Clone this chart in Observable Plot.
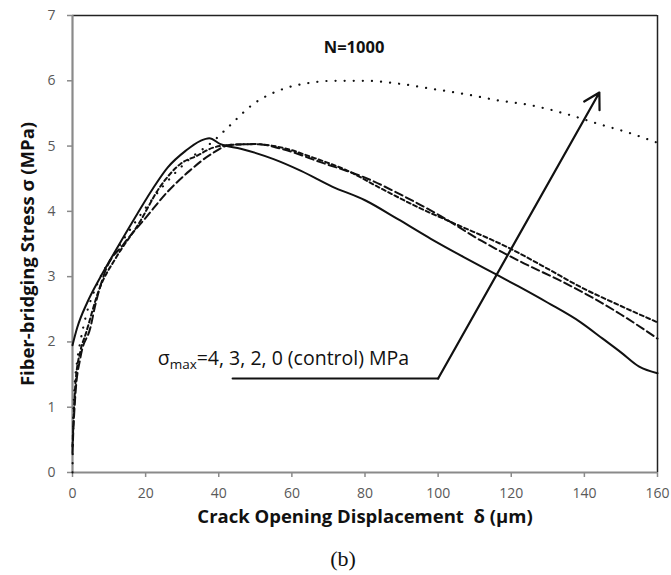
<!DOCTYPE html>
<html>
<head>
<meta charset="utf-8">
<script src="https://cdn.jsdelivr.net/npm/d3@7"></script>
<script src="https://cdn.jsdelivr.net/npm/@observablehq/plot@0.6"></script>
<style>
  body { margin: 0; background: #fff; }
  #chart { width: 671px; }
  #caption { position: absolute; left: 0; top: 548px; width: 686px; text-align: center; line-height: 22px;
    font-family: "Liberation Serif", "DejaVu Serif", serif; font-size: 22px; color: #111; }
</style>
</head>
<body>
<div id="chart"></div>
<div id="caption">(b)</div>
<script>
// Tick values
const xTicks = [0, 20, 40, 60, 80, 100, 120, 140, 160];
const yTicks = [0, 1, 2, 3, 4, 5, 6, 7];

// Texts
const xLabel = "Crack Opening Displacement  δ (µm)";
const yLabel = "Fiber-bridging Stress σ (MPa)";
const titleText = ["N=1000"];
const noteText = ["σmax=4, 3, 2, 0 (control) MPa"];
const titleX = [77], titleY = [6.5];
const noteX = [23.3], noteY = [1.75];

// σmax = 4 MPa (solid)
const s4X = [0, 1.3, 4, 7.5, 12, 17.7, 22, 26, 31, 35, 37.4, 40.5, 46, 55, 62.5, 71, 80, 89, 98, 107, 116, 122, 130, 139, 145, 150, 155, 160];
const s4Y = [1.95, 2.22, 2.6, 2.98, 3.42, 3.96, 4.35, 4.67, 4.93, 5.08, 5.12, 5.03, 4.96, 4.8, 4.62, 4.38, 4.17, 3.88, 3.58, 3.3, 3.03, 2.85, 2.6, 2.3, 2.05, 1.84, 1.62, 1.52];

// σmax = 3 MPa (long dash)
const s3X = [0, 0.2, 0.8, 2.2, 4.9, 6.3, 9, 14, 20, 26, 32, 38, 43.3, 50.6, 57, 68, 80.7, 90, 100, 111.8, 123.6, 133, 142.8, 150, 157.4, 160];
const s3Y = [0.3, 0.6, 1.2, 1.77, 2.22, 2.58, 3.09, 3.5, 3.9, 4.3, 4.62, 4.88, 5.02, 5.03, 4.96, 4.75, 4.5, 4.25, 3.95, 3.55, 3.2, 2.95, 2.66, 2.42, 2.15, 2.05];

// σmax = 2 MPa (short dash)
const s2X = [0, 0.8, 2.2, 3.6, 7.2, 12, 18, 24, 29.6, 34, 38.7, 44, 50, 57, 66, 75.3, 84.4, 95, 105, 119, 130, 139, 150, 160];
const s2Y = [0.4, 1.36, 1.87, 2.12, 2.79, 3.3, 3.8, 4.38, 4.73, 4.85, 4.98, 5.02, 5.03, 4.98, 4.82, 4.62, 4.35, 4.05, 3.8, 3.45, 3.12, 2.84, 2.55, 2.3];

// control (dotted)
const s0X = [0, 0.1, 0.4, 1.3, 2.2, 3.6, 6.8, 12, 18, 25, 32, 38.6, 42.4, 49.6, 57.9, 65, 71.6, 80, 90, 98, 107, 116.4, 125, 134.5, 143.8, 152.9, 160];
const s0Y = [0, 0.5, 1.15, 1.72, 2.02, 2.38, 2.89, 3.4, 3.9, 4.4, 4.8, 5.08, 5.28, 5.65, 5.88, 5.97, 6.0, 6.0, 5.95, 5.88, 5.8, 5.7, 5.63, 5.5, 5.34, 5.19, 5.05];

// Annotation leader
const leaderX = [43.8, 100];
const leaderY = [1.44, 1.44];
const arrowX1 = [100], arrowY1 = [1.44], arrowX2 = [144.1], arrowY2 = [5.82];

const toRows = (xs, ys) => xs.map((x, i) => ({x, y: ys[i]}));

const axisGray = "#8a8a8a";
const labelGray = "#595959";
const font = "'Open Sans', Lato, sans-serif";

const plot = Plot.plot({
  width: 671,
  height: 535,
  marginLeft: 72,
  marginRight: 14,
  marginTop: 15,
  marginBottom: 63,
  style: { fontFamily: font, background: "#fff" },
  x: { domain: [xTicks[0], xTicks[xTicks.length - 1]] },
  y: { domain: [yTicks[0], yTicks[yTicks.length - 1]] },
  marks: [
    Plot.axisX({ ticks: xTicks, tickFormat: d => String(d), tickSize: 5, tickPadding: 11, fontSize: 14, color: labelGray, stroke: axisGray, strokeWidth: 1.5, label: null }),
    Plot.axisY({ ticks: yTicks, tickFormat: d => String(d), tickSize: 5, tickPadding: 12, fontSize: 14, color: labelGray, stroke: axisGray, strokeWidth: 1.5, label: null }),
    Plot.ruleY([yTicks[yTicks.length - 1]], { stroke: "#222", strokeWidth: 1.5 }),
    Plot.ruleX([xTicks[xTicks.length - 1]], { stroke: "#222", strokeWidth: 1.5 }),
    Plot.ruleY([yTicks[0]], { stroke: axisGray, strokeWidth: 2.2 }),
    Plot.ruleX([xTicks[0]], { stroke: axisGray, strokeWidth: 2.2 }),
    Plot.line(toRows(s0X, s0Y), { x: "x", y: "y", stroke: "#111", strokeWidth: 2.2, strokeDasharray: "0.1,9", strokeLinecap: "round", curve: "monotone-x" }),
    Plot.line(toRows(s2X, s2Y), { x: "x", y: "y", stroke: "#111", strokeWidth: 2, strokeDasharray: "4,3", curve: "monotone-x" }),
    Plot.line(toRows(s3X, s3Y), { x: "x", y: "y", stroke: "#111", strokeWidth: 2, strokeDasharray: "8,4", curve: "monotone-x" }),
    Plot.line(toRows(s4X, s4Y), { x: "x", y: "y", stroke: "#111", strokeWidth: 2, curve: "monotone-x" }),
    Plot.line(toRows(leaderX, leaderY), { x: "x", y: "y", stroke: "#111", strokeWidth: 2.2 }),
    Plot.arrow([0], { x1: () => arrowX1[0], y1: () => arrowY1[0], x2: () => arrowX2[0], y2: () => arrowY2[0], stroke: "#111", strokeWidth: 2.2, headLength: 12 }),
    Plot.text(titleText, { x: titleX, y: titleY, text: d => d, fontSize: 16.5, fontWeight: "bold", fill: "#111" }),
    Plot.text(noteText, { x: noteX, y: noteY, text: d => d, fontSize: 19.5, textAnchor: "start", fill: "#111" }),
    Plot.text([xLabel], { frameAnchor: "bottom", dy: 50, text: d => d, fontSize: 18.5, fontWeight: "bold", fill: "#111" }),
    Plot.text([yLabel], { frameAnchor: "left", textAnchor: "middle", dx: -44, dy: 10, rotate: -90, text: d => d, fontSize: 18.5, fontWeight: "bold", fill: "#111" })
  ]
});

// subscript "max" in the annotation
d3.select(plot).selectAll("text").each(function () {
  const t = this.textContent;
  if (t === noteText[0]) {
    const sel = d3.select(this);
    sel.text(null);
    sel.append("tspan").text("σ");
    sel.append("tspan").attr("baseline-shift", "-25%").attr("font-size", "13.5px").text("max");
    sel.append("tspan").text(t.slice(4));
  }
});

document.getElementById("chart").append(plot);
</script>
</body>
</html>
